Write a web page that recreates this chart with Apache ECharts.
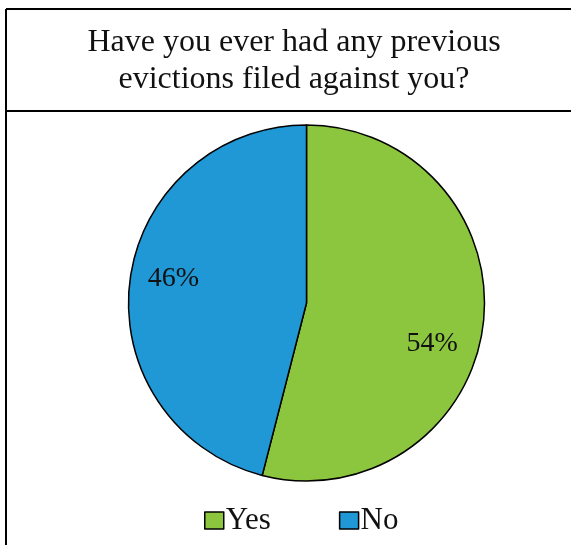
<!DOCTYPE html>
<html><head><meta charset="utf-8">
<script src="https://cdn.jsdelivr.net/npm/echarts@6/dist/echarts.min.js"></script>
<style>html,body{margin:0;padding:0;background:#fff}#c{width:571px;height:545px}</style>
</head><body><div id="c"></div>
<script>
const titleText = 'Have you ever had any previous\nevictions filed against you?';
const categories = ['Yes', 'No'];
const values = [54, 46];
const colors = ['#8CC63F', '#1F98D5'];
const labelOffsets = [[-11, -2], [4, 3]];

const chart = echarts.init(document.getElementById('c'), null, {renderer: 'canvas'});
chart.setOption({
  animation: false,
  legend: {
    data: categories, bottom: 4, left: 199, itemGap: 68,
    itemWidth: 19, itemHeight: 17, icon: 'rect',
    itemStyle: {borderColor: '#000', borderWidth: 1.5},
    textStyle: {fontFamily: 'Liberation Serif', fontSize: 31, color: '#111', padding: [0,0,0,-3]}
  },
  graphic: [
    {type: 'line', shape: {x1: 6, y1: 9, x2: 571, y2: 9}, style: {stroke: '#000', lineWidth: 2}},
    {type: 'line', shape: {x1: 6, y1: 9, x2: 6, y2: 545}, style: {stroke: '#000', lineWidth: 2}},
    {type: 'line', shape: {x1: 6, y1: 111, x2: 571, y2: 111}, style: {stroke: '#000', lineWidth: 2}},
    {type: 'text', x: 294, y: 24, style: {
      text: titleText, align: 'center', verticalAlign: 'top',
      fontFamily: 'Liberation Serif', fontSize: 32, lineHeight: 37, fill: '#111'
    }}
  ],
  series: [{
    type: 'pie', center: [306.5, 303], radius: 178, startAngle: 90, clockwise: true,
    data: categories.map((c, i) => ({name: c, value: values[i], itemStyle: {color: colors[i]}})),
    itemStyle: {borderColor: '#000', borderWidth: 1.5},
    label: {
      position: 'inside', formatter: '{c}%',
      fontFamily: 'Liberation Serif', fontSize: 28, color: '#111'
    },
    labelLayout: function (p) {
      const cx = 307, cy = 303, o = labelOffsets[p.dataIndex];
      const lx = p.labelRect.x + p.labelRect.width / 2, ly = p.labelRect.y + p.labelRect.height / 2;
      return {dx: (lx - cx) * 0.5 + o[0], dy: (ly - cy) * 0.5 + (p.dataIndex === 0 ? 25 : -10) + o[1]};
    },
    emphasis: {disabled: true}
  }]
});
</script></body></html>
